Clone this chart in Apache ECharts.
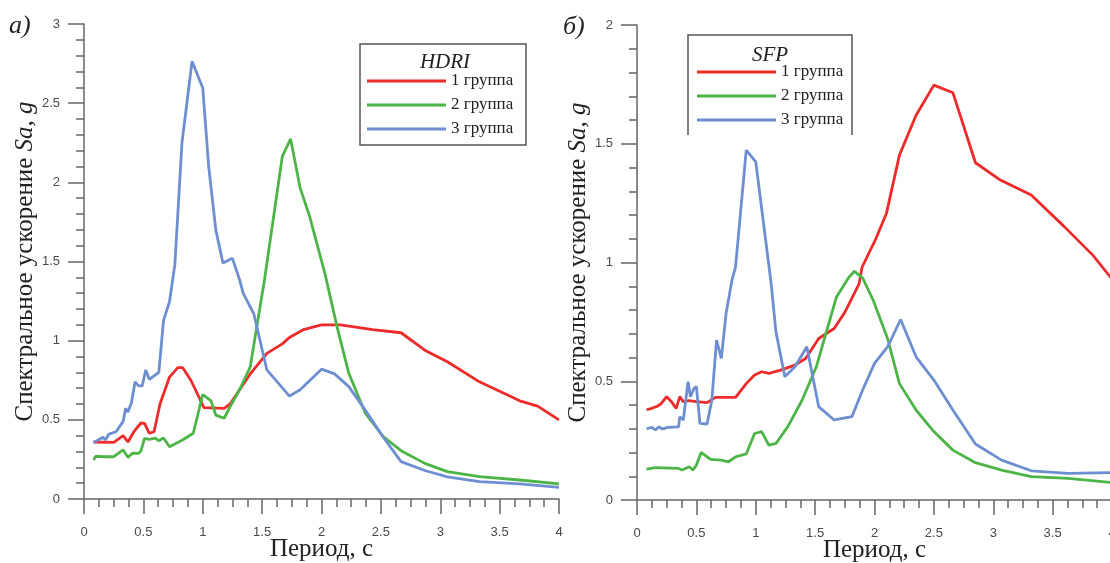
<!DOCTYPE html>
<html>
<head>
<meta charset="utf-8">
<script src="https://cdn.jsdelivr.net/npm/echarts@6/dist/echarts.min.js"></script>
<style>
  html, body { margin: 0; padding: 0; background: #fff; }
  #chart { width: 1110px; height: 563px; }
</style>
</head>
<body>
<div id="chart"></div>
<script>
// [период, Sa] для каждой группы
const seriesNames = ['1 группа', '2 группа', '3 группа'];
const colors = ['#ee2b2b', '#4db548', '#6d8fd1'];

// а) HDRI
const hdri1 = [[0.08,0.36],[0.25,0.358],[0.33,0.40],[0.37,0.36],[0.42,0.425],[0.48,0.48],[0.51,0.478],[0.55,0.415],[0.59,0.425],[0.64,0.60],[0.72,0.77],[0.79,0.83],[0.83,0.83],[0.90,0.75],[1.01,0.577],[1.18,0.573],[1.23,0.60],[1.31,0.69],[1.40,0.79],[1.54,0.92],[1.67,0.98],[1.73,1.02],[1.85,1.07],[2.0,1.10],[2.16,1.10],[2.43,1.07],[2.67,1.05],[2.87,0.94],[3.06,0.867],[3.33,0.74],[3.67,0.62],[3.82,0.587],[4.0,0.50]];
const hdri2 = [[0.08,0.246],[0.10,0.27],[0.16,0.267],[0.25,0.267],[0.33,0.31],[0.37,0.263],[0.41,0.29],[0.46,0.288],[0.48,0.305],[0.51,0.383],[0.55,0.377],[0.60,0.385],[0.63,0.368],[0.67,0.385],[0.72,0.33],[0.83,0.373],[0.92,0.415],[1.0,0.66],[1.07,0.62],[1.11,0.53],[1.18,0.51],[1.23,0.583],[1.31,0.69],[1.40,0.835],[1.52,1.385],[1.67,2.164],[1.74,2.274],[1.82,1.965],[1.90,1.785],[2.03,1.42],[2.13,1.09],[2.23,0.794],[2.37,0.54],[2.52,0.394],[2.67,0.305],[2.87,0.225],[3.06,0.173],[3.33,0.141],[3.67,0.12],[4.0,0.095]];
const hdri3 = [[0.08,0.356],[0.13,0.377],[0.16,0.39],[0.18,0.373],[0.21,0.41],[0.27,0.425],[0.33,0.49],[0.35,0.573],[0.37,0.55],[0.40,0.61],[0.43,0.74],[0.46,0.714],[0.49,0.714],[0.52,0.815],[0.55,0.756],[0.63,0.80],[0.67,1.13],[0.72,1.246],[0.765,1.48],[0.825,2.25],[0.91,2.765],[1.0,2.596],[1.05,2.10],[1.11,1.70],[1.17,1.49],[1.25,1.52],[1.31,1.385],[1.34,1.30],[1.43,1.17],[1.54,0.815],[1.73,0.65],[1.82,0.69],[2.0,0.82],[2.11,0.79],[2.23,0.71],[2.37,0.56],[2.52,0.39],[2.67,0.236],[2.87,0.18],[3.06,0.14],[3.33,0.11],[3.67,0.095],[4.0,0.074]];

// б) SFP
const sfp1 = [[0.08,0.38],[0.125,0.386],[0.17,0.395],[0.20,0.404],[0.25,0.435],[0.29,0.414],[0.33,0.386],[0.36,0.435],[0.39,0.414],[0.44,0.418],[0.50,0.414],[0.59,0.41],[0.66,0.432],[0.83,0.432],[0.92,0.49],[0.99,0.526],[1.05,0.54],[1.11,0.533],[1.21,0.547],[1.33,0.568],[1.42,0.596],[1.53,0.68],[1.66,0.722],[1.75,0.79],[1.87,0.91],[1.895,0.98],[2.006,1.094],[2.1,1.206],[2.21,1.452],[2.35,1.62],[2.5,1.747],[2.66,1.715],[2.85,1.42],[3.06,1.347],[3.32,1.284],[3.60,1.15],[3.84,1.03],[4.0,0.93]];
const sfp2 = [[0.08,0.13],[0.155,0.136],[0.35,0.133],[0.38,0.126],[0.44,0.14],[0.47,0.126],[0.50,0.147],[0.54,0.20],[0.62,0.171],[0.71,0.168],[0.77,0.161],[0.83,0.182],[0.92,0.194],[0.99,0.28],[1.05,0.288],[1.11,0.231],[1.17,0.238],[1.27,0.309],[1.39,0.42],[1.51,0.561],[1.59,0.70],[1.68,0.855],[1.78,0.935],[1.83,0.963],[1.90,0.935],[1.99,0.84],[2.11,0.68],[2.21,0.49],[2.35,0.379],[2.5,0.288],[2.66,0.21],[2.85,0.157],[3.07,0.126],[3.32,0.098],[3.63,0.091],[4.0,0.073]];
const sfp3 = [[0.08,0.30],[0.125,0.306],[0.155,0.295],[0.185,0.308],[0.215,0.299],[0.26,0.306],[0.35,0.308],[0.36,0.35],[0.39,0.337],[0.43,0.498],[0.45,0.435],[0.48,0.47],[0.50,0.477],[0.53,0.323],[0.59,0.32],[0.63,0.42],[0.67,0.673],[0.71,0.596],[0.75,0.785],[0.80,0.926],[0.83,0.982],[0.92,1.473],[1.0,1.424],[1.13,0.91],[1.17,0.708],[1.245,0.519],[1.33,0.561],[1.43,0.645],[1.53,0.393],[1.66,0.337],[1.81,0.351],[1.9,0.463],[2.0,0.575],[2.11,0.645],[2.22,0.76],[2.35,0.603],[2.5,0.505],[2.66,0.379],[2.85,0.236],[3.07,0.168],[3.32,0.123],[3.63,0.112],[4.0,0.115]];

const xMax = 4;
const yMaxLeft = 3;
const yMaxRight = 2;
const tickStep = 0.5;

const axisGray = '#666';
const serif = '"Liberation Serif", "DejaVu Serif", serif';

function xAxisOpt(gridIndex) {
  return {
    type: 'value', gridIndex: gridIndex,
    min: 0, max: xMax, interval: tickStep,
    name: 'Период, с',
    nameLocation: 'middle', nameGap: 38, nameMoveOverlap: false,
    nameTextStyle: { fontFamily: serif, fontSize: 25, color: '#222' },
    axisLine: { lineStyle: { color: axisGray, width: 1.5 } },
    axisTick: { show: true, length: 15, lineStyle: { color: axisGray, width: 1.5 } },
    minorTick: { show: true, splitNumber: 4, length: 8, lineStyle: { color: axisGray, width: 1.5 } },
    axisLabel: { margin: 27, fontFamily: 'Liberation Sans', fontSize: 13, color: '#4a4a4a' },
    splitLine: { show: false }
  };
}

function yAxisOpt(gridIndex, max) {
  return {
    type: 'value', gridIndex: gridIndex,
    min: 0, max: max, interval: tickStep,
    name: 'Спектральное ускорение {i|Sa, g}',
    nameLocation: 'middle', nameGap: 46, nameMoveOverlap: false,
    nameTextStyle: {
      fontFamily: serif, fontSize: 25, color: '#222',
      rich: { i: { fontFamily: serif, fontSize: 25, fontStyle: 'italic', color: '#222' } }
    },
    axisLine: { show: true, lineStyle: { color: axisGray, width: 1.5 } },
    axisTick: { show: true, length: 16, lineStyle: { color: axisGray, width: 1.5 } },
    minorTick: { show: true, splitNumber: 5, length: 8, lineStyle: { color: axisGray, width: 1.5 } },
    axisLabel: { margin: 24, fontFamily: 'Liberation Sans', fontSize: 13, color: '#4a4a4a' },
    splitLine: { show: false }
  };
}

function lineSeries(name, data, idx, color) {
  return {
    name: name, type: 'line', data: data,
    xAxisIndex: idx, yAxisIndex: idx,
    showSymbol: false, symbol: 'none',
    color: color,
    lineStyle: { color: color, width: 2.8 }
  };
}

function legendOpt(left, top) {
  return {
    orient: 'vertical', left: left, top: top, padding: 0,
    data: seriesNames, icon: 'rect',
    itemWidth: 79, itemHeight: 3, itemGap: 6,
    textStyle: { fontFamily: serif, fontSize: 17, color: '#222', lineHeight: 18 }
  };
}

const chart = echarts.init(document.getElementById('chart'));
chart.setOption({
  backgroundColor: '#fff',
  animation: false,
  color: colors,
  grid: [
    { left: 84, top: 24, width: 475, height: 475, outerBoundsMode: 'none', containLabel: false },
    { left: 637, top: 25, width: 475, height: 475, outerBoundsMode: 'none', containLabel: false }
  ],
  xAxis: [xAxisOpt(0), xAxisOpt(1)],
  yAxis: [yAxisOpt(0, yMaxLeft), yAxisOpt(1, yMaxRight)],
  legend: [legendOpt(367, 72), legendOpt(697, 63)],
  series: [
    lineSeries(seriesNames[0], hdri1, 0, colors[0]),
    lineSeries(seriesNames[1], hdri2, 0, colors[1]),
    lineSeries(seriesNames[2], hdri3, 0, colors[2]),
    lineSeries(seriesNames[0], sfp1, 1, colors[0]),
    lineSeries(seriesNames[1], sfp2, 1, colors[1]),
    lineSeries(seriesNames[2], sfp3, 1, colors[2])
  ],
  graphic: [
    { type: 'text', left: 9, top: 13, style: { text: 'а)', font: 'italic 26px ' + serif, fill: '#222' } },
    { type: 'text', left: 563, top: 14, style: { text: 'б)', font: 'italic 26px ' + serif, fill: '#222' } },
    // рамки легенд
    { type: 'rect', shape: { x: 360, y: 44, width: 166, height: 101 }, style: { fill: 'none', stroke: '#555', lineWidth: 1.5 } },
    { type: 'polyline', shape: { points: [[688, 135], [688, 35], [852, 35], [852, 135]] }, style: { fill: 'none', stroke: '#555', lineWidth: 1.5 } },
    { type: 'text', x: 445, y: 62, style: { text: 'HDRI', font: 'italic 21px ' + serif, fill: '#222', align: 'center', verticalAlign: 'middle' } },
    { type: 'text', x: 770, y: 55, style: { text: 'SFP', font: 'italic 21px ' + serif, fill: '#222', align: 'center', verticalAlign: 'middle' } }
  ]
});
</script>
</body>
</html>
